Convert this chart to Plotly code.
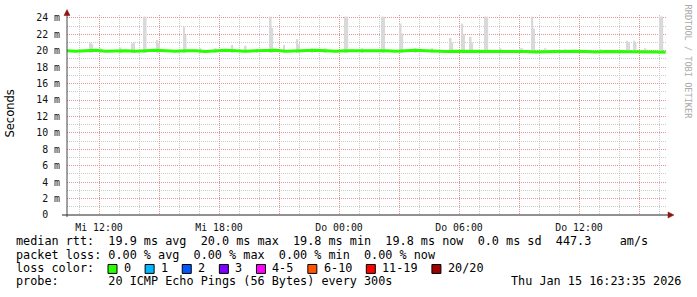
import plotly.graph_objects as go
import pandas as pd

# ---------------- data ----------------
range_start = "2026-01-14 10:24"
range_end = "2026-01-15 16:24"

# median rtt (ms), one value every 30 min from Wed 10:20 to Thu 16:20
median_start = "2026-01-14 10:20"
median_ms = [
    20.0, 19.95, 20.0, 20.05, 19.95, 20.0, 20.0, 19.95, 20.0, 20.05,
    20.0, 19.95, 20.0, 20.0, 19.9, 20.0, 20.05, 20.0, 19.95, 20.0,
    20.0, 20.05, 19.95, 20.0, 20.0, 20.05, 20.0, 19.95, 20.0, 20.0,
    20.05, 20.0, 20.0, 19.95, 20.0, 20.05, 20.0, 19.95, 19.9, 19.95,
    19.95, 19.9, 19.95, 19.9, 19.9, 19.95, 19.9, 19.85, 19.9, 19.9,
    19.9, 19.95, 19.9, 19.85, 19.9, 19.9, 19.85, 19.9, 19.9, 19.85, 19.8,
]

# smoke (ping spread) per 5-minute step where it is visible
smoke_times = [
    "2026-01-14 11:35", "2026-01-14 11:40", "2026-01-14 12:05", "2026-01-14 13:05",
    "2026-01-14 13:40", "2026-01-14 13:45", "2026-01-14 14:15", "2026-01-14 14:20",
    "2026-01-14 14:55", "2026-01-14 15:00", "2026-01-14 16:15", "2026-01-14 16:20",
    "2026-01-14 17:05", "2026-01-14 17:50", "2026-01-14 18:40", "2026-01-14 19:20",
    "2026-01-14 19:55", "2026-01-14 20:35", "2026-01-14 20:40", "2026-01-14 21:15",
    "2026-01-14 21:55", "2026-01-14 22:00", "2026-01-14 22:40", "2026-01-14 23:20",
    "2026-01-15 00:20", "2026-01-15 00:25", "2026-01-15 01:10", "2026-01-15 02:10",
    "2026-01-15 02:15", "2026-01-15 03:05", "2026-01-15 03:10", "2026-01-15 03:50",
    "2026-01-15 04:40", "2026-01-15 05:35", "2026-01-15 05:40", "2026-01-15 06:10",
    "2026-01-15 06:15", "2026-01-15 06:35", "2026-01-15 06:40", "2026-01-15 07:20",
    "2026-01-15 07:25", "2026-01-15 08:05", "2026-01-15 09:05", "2026-01-15 09:10",
    "2026-01-15 09:40", "2026-01-15 09:45", "2026-01-15 10:20", "2026-01-15 11:20",
    "2026-01-15 13:05", "2026-01-15 14:25", "2026-01-15 14:30", "2026-01-15 14:45",
    "2026-01-15 14:50", "2026-01-15 15:20", "2026-01-15 16:05", "2026-01-15 16:10",
]
smoke_high = [
    21.0, 20.8, 20.3, 20.4,
    20.9, 21.0, 24.15, 24.15,
    21.3, 20.9, 22.9, 21.9,
    20.3, 20.3, 20.7, 20.6,
    20.2, 24.15, 22.8, 20.7,
    21.4, 20.8, 20.3, 20.3,
    24.15, 24.15, 20.3, 24.15,
    24.15, 23.3, 22.1, 20.3,
    20.3, 21.55, 21.0, 23.3,
    22.0, 21.7, 21.0, 24.15,
    24.15, 20.3, 20.3, 20.3,
    24.15, 22.7, 20.3, 20.2,
    20.2, 21.2, 21.0, 21.2,
    20.95, 20.3, 24.15, 24.15,
]
smoke_low = 19.75

y_tick_vals = [0, 2, 4, 6, 8, 10, 12, 14, 16, 18, 20, 22, 24]
y_tick_text = ["0  ", "2 m", "4 m", "6 m", "8 m", "10 m", "12 m", "14 m",
               "16 m", "18 m", "20 m", "22 m", "24 m"]

x_tick_times = ["2026-01-14 12:00", "2026-01-14 15:00", "2026-01-14 18:00",
                "2026-01-14 21:00", "2026-01-15 00:00", "2026-01-15 03:00",
                "2026-01-15 06:00", "2026-01-15 09:00", "2026-01-15 12:00",
                "2026-01-15 15:00"]
x_tick_text = ["Mi 12:00", "", "Mi 18:00", "", "Do 00:00", "",
               "Do 06:00", "", "Do 12:00", ""]

legend_rtt = "median rtt:  19.9 ms avg  20.0 ms max  19.8 ms min  19.8 ms now  0.0 ms sd  447.3    am/s"
legend_loss = "packet loss: 0.00 % avg  0.00 % max  0.00 % min  0.00 % now"
loss_labels = ["0", "1", "2", "3", "4-5", "6-10", "11-19", "20/20"]
loss_colors = ["#26ff00", "#00b8ff", "#0059ff", "#7e00ff", "#ff00ff",
               "#ff5500", "#ff0000", "#a10000"]
probe_text = "probe:       20 ICMP Echo Pings (56 Bytes) every 300s"
stamp_text = "Thu Jan 15 16:23:35 2026"

# ---------------- geometry ----------------
W, H = 697, 297
L, R, T, B = 67, 30, 13, 82
PW, PH = W - L - R, H - T - B
MONO = "DejaVu Sans Mono"
MAJOR = "rgba(235,130,130,0.75)"
MINOR = "rgba(190,190,190,0.8)"
CLEAR = "rgba(0,0,0,0)"


def px(x):
    return (x - L) / PW


def py(y):
    return (H - B - y) / PH


def nb(s):
    return s.replace(" ", "\u00a0")


median_times = pd.date_range(median_start, periods=len(median_ms), freq="30min")

fig = go.Figure()
fig.add_trace(go.Bar(
    x=pd.to_datetime(smoke_times),
    y=[h - smoke_low for h in smoke_high],
    base=smoke_low,
    width=300000,
    marker=dict(color="#d9d9d9", line=dict(width=0)),
    hoverinfo="skip",
))
fig.add_trace(go.Scatter(
    x=median_times, y=median_ms, mode="lines",
    line=dict(color=loss_colors[0], width=3),
    hoverinfo="skip",
))

fig.update_layout(
    width=W, height=H,
    margin=dict(l=L, r=R, t=T, b=B, pad=0),
    paper_bgcolor="white", plot_bgcolor="white",
    showlegend=False,
    font=dict(family=MONO, color="#111", size=10),
)
fig.update_xaxes(
    type="date", range=[range_start, range_end],
    tickmode="array", tickvals=x_tick_times, ticktext=x_tick_text,
    showgrid=True, gridcolor=MAJOR, griddash="1px,1px", gridwidth=1,
    ticks="outside", ticklen=3, tickcolor=CLEAR,
    tickfont=dict(family=MONO, size=9.9, color="#111"),
    minor=dict(tickmode="linear", tick0="2026-01-14 00:00", dtick=3600000,
               showgrid=True, gridcolor=MINOR, griddash="1px,1px", gridwidth=1,
               ticks=""),
    showline=False, zeroline=False, fixedrange=True,
)
fig.update_yaxes(
    range=[0, 24.35],
    tickmode="array", tickvals=y_tick_vals, ticktext=[nb(t) for t in y_tick_text],
    showgrid=True, gridcolor=MAJOR, griddash="1px,1px", gridwidth=1,
    ticks="outside", ticklen=4, tickcolor=CLEAR,
    tickfont=dict(family=MONO, size=9.9, color="#111"),
    minor=dict(tickmode="linear", tick0=0, dtick=1,
               showgrid=True, gridcolor=MINOR, griddash="1px,1px", gridwidth=1,
               ticks=""),
    showline=False, zeroline=False, fixedrange=True,
)

shapes = []
# axis lines
shapes.append(dict(type="line", xref="paper", yref="paper",
                   x0=px(62), x1=px(668), y0=py(215), y1=py(215),
                   line=dict(color="#222", width=1)))
shapes.append(dict(type="line", xref="paper", yref="paper",
                   x0=px(67), x1=px(67), y0=py(217), y1=py(12),
                   line=dict(color="#444", width=1)))
# arrows
shapes.append(dict(type="path", xref="paper", yref="paper",
                   path=f"M {px(64)},{py(13.5)} L {px(70)},{py(13.5)} L {px(67)},{py(7.5)} Z",
                   fillcolor="#8e1515", line=dict(color="#8e1515", width=0.5)))
shapes.append(dict(type="path", xref="paper", yref="paper",
                   path=f"M {px(668)},{py(212)} L {px(668)},{py(218)} L {px(674)},{py(215)} Z",
                   fillcolor="#8e1515", line=dict(color="#8e1515", width=0.5)))

annotations = []


def text(x, y, s, size=11.8, anchor="left", color="#000", family=MONO, angle=0):
    annotations.append(dict(xref="paper", yref="paper", x=px(x), y=py(y),
                            text=nb(s), showarrow=False, xanchor=anchor,
                            yanchor="middle", textangle=angle, borderpad=0,
                            font=dict(family=family, size=size, color=color)))


text(15, 241.5, legend_rtt)
text(15, 255.0, legend_loss)
text(15, 268.5, "loss color:")
text(15, 282.0, probe_text)
text(681.5, 282.0, stamp_text, anchor="right")

# loss colour boxes
bx = 108
for lab, col in zip(loss_labels, loss_colors):
    shapes.append(dict(type="rect", xref="paper", yref="paper",
                       x0=px(bx), x1=px(bx + 9), y0=py(274), y1=py(265),
                       fillcolor=col, line=dict(color="#000", width=1)))
    text(bx + 15, 268.5, lab)
    bx += 30 + 7.12 * len(lab)

# y title and watermark
text(10.5, 113, "Seconds", size=11.5, anchor="center", family="DejaVu Sans", angle=-90)
text(688, 60, "RRDTOOL / TOBI OETIKER", size=8.6, anchor="center", color="#aaaaaa", angle=90)

fig.update_layout(shapes=shapes, annotations=annotations)
fig.write_html("out.html")
